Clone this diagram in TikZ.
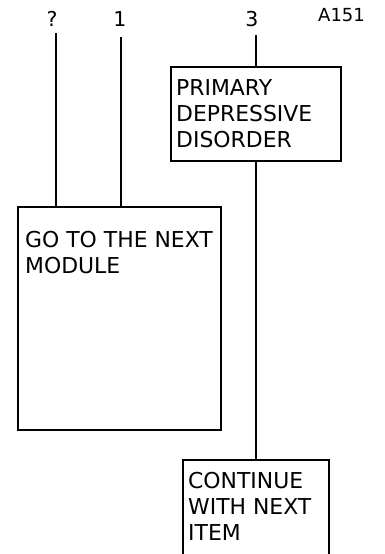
\documentclass[tikz,border=0pt]{standalone}
\usepackage{fontspec}
\setmainfont{DejaVu Sans}
\begin{document}
\begin{tikzpicture}[x=1pt,y=-1pt,
  box/.style={draw, line width=1.5pt, inner sep=0pt, outer sep=0pt, anchor=north west},
  conn/.style={line width=1.5pt},
  btext/.style={anchor=north west, inner sep=0pt, align=left, font=\fontsize{21.9}{26}\selectfont},
  lbl/.style={anchor=base, inner sep=0pt, font=\fontsize{20.5}{24}\selectfont}]
\useasboundingbox (0,0) rectangle (384,554);
\clip (0,0) rectangle (384,554);
% labels
\node[lbl] (lq) at (52,26) {?};
\node[lbl] (l1) at (120,26) {1};
\node[lbl] (l3) at (252,26) {3};
\node[anchor=base west, inner sep=0pt, font=\fontsize{18}{20}\selectfont] (code) at (318,21) {A151};
% boxes
\node[box, minimum width=170pt, minimum height=94pt] (prim) at (171,67) {};
\node[box, minimum width=203pt, minimum height=223pt] (go) at (18,207) {};
\node[box, minimum width=146pt, minimum height=100pt] (cont) at (183,460) {};
% texts
\node[btext] (primt) at (176,79.5) {PRIMARY\\DEPRESSIVE\\DISORDER};
\node[btext] (got) at (25,231.5) {GO TO THE NEXT\\MODULE};
\node[btext] (contt) at (188,472.5) {CONTINUE\\WITH NEXT\\ITEM};
% connectors
\coordinate (cq) at (56,33);
\coordinate (c1) at (121,37);
\coordinate (c3) at (256,35);
\draw[conn] (cq) -- (cq |- go.north);
\draw[conn] (c1) -- (c1 |- go.north);
\draw[conn] (c3) -- (prim.north);
\draw[conn] (prim.south) -- (cont.north);
\end{tikzpicture}
\end{document}
